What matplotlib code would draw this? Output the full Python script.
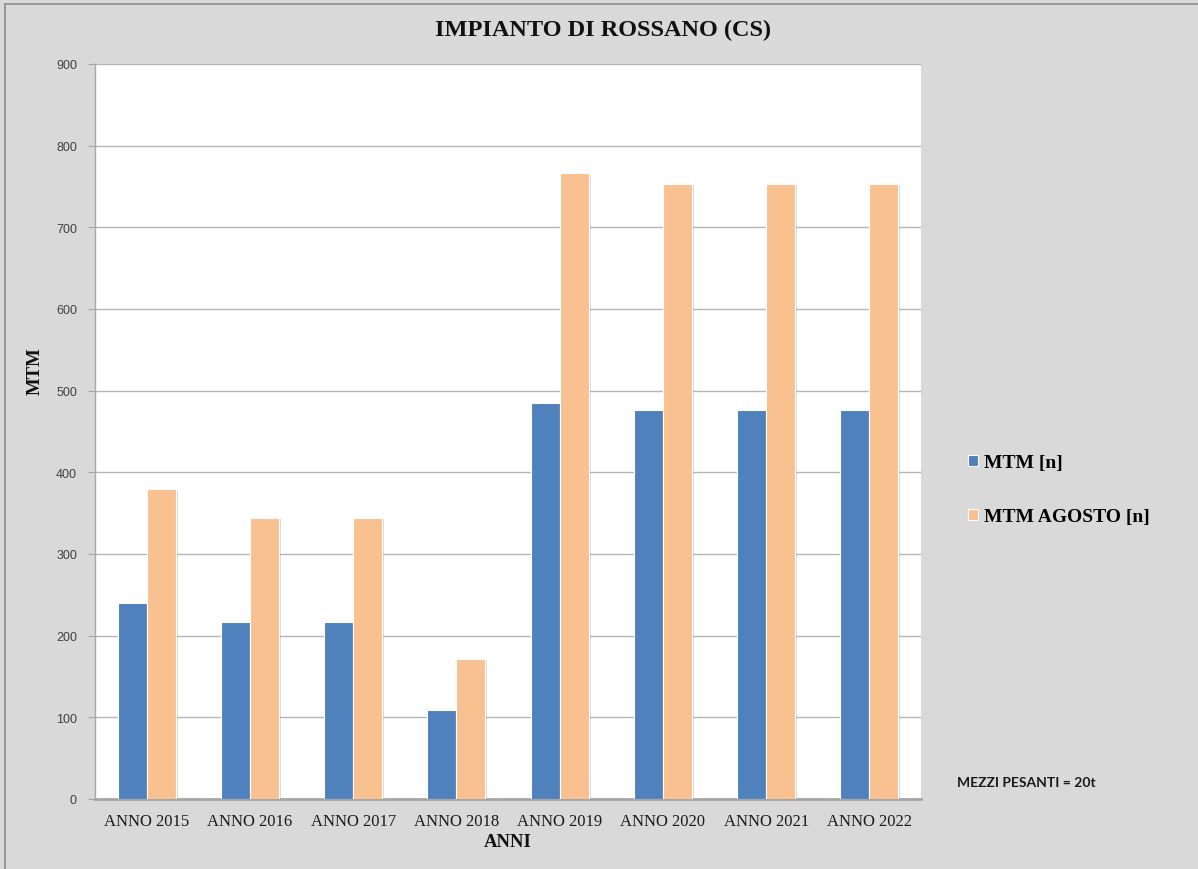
import matplotlib
matplotlib.use("Agg")
import matplotlib.pyplot as plt
import matplotlib.patheffects as pe
from matplotlib.lines import Line2D
import numpy as np

# Data
categories = ["ANNO 2015", "ANNO 2016", "ANNO 2017", "ANNO 2018",
              "ANNO 2019", "ANNO 2020", "ANNO 2021", "ANNO 2022"]
mtm = [240, 217, 217, 109, 485, 476, 476, 476]
mtm_agosto = [380, 344, 344, 172, 766, 753, 753, 753]
series_labels = ["MTM [n]", "MTM AGOSTO [n]"]
y_ticks = list(range(0, 901, 100))

BG = "#D9D9D9"
BLUE = "#4F81BD"
ORANGE = "#F9C090"
SERIF = "Liberation Serif"
SANS = "Liberation Sans"

fig = plt.figure(figsize=(11.98, 8.70), dpi=100, facecolor=BG)
ax = fig.add_axes([0.0793, 0.0805, 0.6895, 0.8448])
ax.set_facecolor("white")

x = np.arange(len(categories))
w = 0.28
shadow = [pe.SimplePatchShadow(offset=(1.5, -1.0), shadow_rgbFace="#9A9A9A", alpha=0.35),
          pe.Normal()]
b1 = ax.bar(x - 0.14, mtm, width=w, color=BLUE, edgecolor="white", linewidth=0.8,
            zorder=3, label=series_labels[0])
b2 = ax.bar(x + 0.14, mtm_agosto, width=w, color=ORANGE, edgecolor="white", linewidth=0.8,
            zorder=3, label=series_labels[1])
for bar in list(b1) + list(b2):
    bar.set_path_effects(shadow)

ax.set_xlim(-0.5, len(categories) - 0.5)
ax.set_ylim(0, 900)
ax.set_yticks(y_ticks)
ax.set_xticks(x)
ax.set_xticklabels(categories, fontfamily=SERIF, fontsize=12, color="#1A1A1A")
ax.tick_params(axis="x", length=0, pad=10)
ax.tick_params(axis="y", length=5, width=0.8, color="#A6A6A6", pad=8,
               labelsize=9, labelcolor="#404040")
for lab in ax.get_yticklabels():
    lab.set_fontfamily(SANS)

ax.grid(axis="y", color="#B5B5B5", linewidth=1.0, zorder=0)
ax.set_axisbelow(True)
for s in ["top", "right"]:
    ax.spines[s].set_visible(False)
ax.spines["left"].set_color("#A6A6A6")
ax.spines["left"].set_linewidth(1.0)
ax.spines["bottom"].set_color("#A6A6A6")
ax.spines["bottom"].set_linewidth(2.0)

ax.set_xlabel("ANNI", fontfamily=SERIF, fontweight="bold", fontsize=13.5,
              color="#111111", labelpad=3)
ax.set_ylabel("MTM", fontfamily=SERIF, fontweight="bold", fontsize=13.5,
              color="#111111")
ax.yaxis.set_label_coords(-0.062, 0.583)

fig.text(0.503, 0.965, "IMPIANTO DI ROSSANO (CS)", ha="center", va="center",
         fontfamily=SERIF, fontweight="bold", fontsize=17.5, color="#111111")

leg = fig.legend(handles=[b1, b2], labels=series_labels, loc="upper left",
                 bbox_to_anchor=(0.8015, 0.4855), frameon=False,
                 prop={"family": SERIF, "weight": "bold", "size": 14},
                 handlelength=0.5, handleheight=0.5, handletextpad=0.3,
                 labelspacing=1.9, borderaxespad=0)
for h in leg.legend_handles:
    h.set_path_effects([])

fig.text(0.799, 0.100, "MEZZI PESANTI = 20t", ha="left", va="center",
         fontfamily="Lato", fontweight="bold", fontsize=10, color="#1A1A1A")

# thin frame lines along the top and left of the chart area
fig.add_artist(Line2D([0.0042, 0.0042], [0.0, 0.9943], transform=fig.transFigure,
                      color="#8C8C8C", linewidth=1.2))
fig.add_artist(Line2D([0.0042, 1.0], [0.9943, 0.9943], transform=fig.transFigure,
                      color="#8C8C8C", linewidth=1.2))

fig.savefig("out.png", dpi=100, facecolor=BG)
